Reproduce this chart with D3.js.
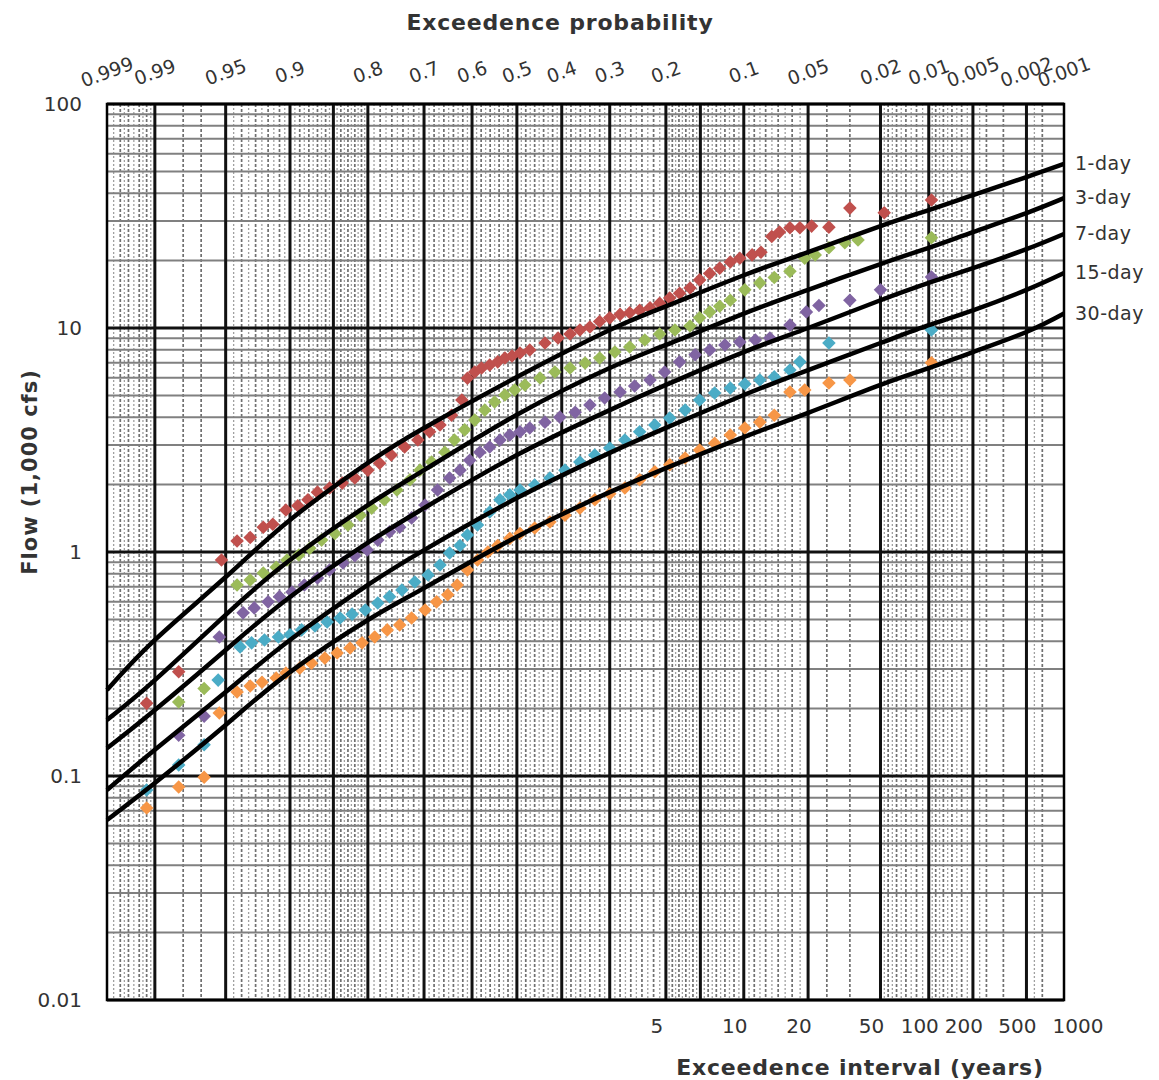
<!DOCTYPE html>
<html>
<head>
<meta charset="utf-8">
<script src="https://cdn.jsdelivr.net/npm/d3@7"></script>
<style>
  body { margin: 0; background: #fff; }
  svg text { font-family: "DejaVu Sans", Verdana, sans-serif; fill: #333; }
</style>
</head>
<body>
<div id="chart"></div>
<script>
// ---- Data ----
const durations = ["1-day", "3-day", "7-day", "15-day", "30-day"];
const seriesColors = ["#c0504d", "#9bbb59", "#8064a2", "#4bacc6", "#f79646"];

const probLabels = [0.999, 0.99, 0.95, 0.9, 0.8, 0.7, 0.6, 0.5, 0.4, 0.3, 0.2, 0.1, 0.05, 0.02, 0.01, 0.005, 0.002, 0.001];
const intervalLabels = [5, 10, 20, 50, 100, 200, 500, 1000];
const flowLabels = [0.01, 0.1, 1, 10, 100];

// probability paper grid
const majorProbs = [0.99, 0.95, 0.9, 0.85, 0.8, 0.7, 0.6, 0.5, 0.4, 0.3, 0.2, 0.15, 0.1, 0.05, 0.02, 0.01, 0.005, 0.002];
const minorProbs = [0.998, 0.997, 0.995, 0.993, 0.98, 0.97, 0.94, 0.93, 0.92, 0.91, 0.89, 0.88, 0.87, 0.86,
  0.84, 0.83, 0.82, 0.81, 0.78, 0.76, 0.74, 0.72, 0.68, 0.66, 0.64, 0.62, 0.58, 0.56, 0.54, 0.52,
  0.48, 0.46, 0.44, 0.42, 0.38, 0.36, 0.34, 0.32, 0.28, 0.26, 0.24, 0.22, 0.19, 0.18, 0.17, 0.16,
  0.14, 0.13, 0.12, 0.11, 0.09, 0.08, 0.07, 0.06, 0.04, 0.03, 0.018, 0.016, 0.014, 0.012,
  0.009, 0.008, 0.007, 0.006, 0.004, 0.003, 0.0015];

// fitted frequency curves
const fitProbs = [0.999, 0.99, 0.95, 0.9, 0.8, 0.7, 0.5, 0.3, 0.2, 0.1, 0.05, 0.02, 0.01, 0.005, 0.002, 0.001];
const fit1 = [0.242, 0.405, 0.773, 1.39, 2.50, 3.58, 6.04, 9.80, 12.5, 17.2, 21.8, 28.5, 33.6, 39.2, 47.2, 54.0];
const fit3 = [0.178, 0.268, 0.524, 0.921, 1.62, 2.32, 4.10, 6.63, 8.40, 11.6, 14.8, 19.3, 22.8, 26.8, 32.6, 38.0];
const fit7 = [0.133, 0.197, 0.365, 0.630, 1.10, 1.57, 2.71, 4.30, 5.57, 7.81, 10.0, 13.3, 15.9, 18.5, 22.5, 26.3];
const fit15 = [0.0866, 0.131, 0.237, 0.405, 0.713, 1.02, 1.74, 2.77, 3.58, 5.02, 6.49, 8.57, 10.3, 12.0, 14.8, 17.6];
const fit30 = [0.0636, 0.0931, 0.169, 0.291, 0.497, 0.690, 1.17, 1.85, 2.37, 3.26, 4.18, 5.57, 6.62, 7.81, 9.60, 11.6];

// observed annual flows [exceedence probability, flow]
const obs1 = [[0.993, 0.211], [0.982, 0.292], [0.954, 0.921], [0.943, 1.12], [0.934, 1.16], [0.924, 1.29],
  [0.916, 1.33], [0.904, 1.54], [0.892, 1.61], [0.881, 1.71], [0.870, 1.85], [0.855, 1.93], [0.838, 2.03],
  [0.820, 2.14], [0.800, 2.32], [0.781, 2.49], [0.761, 2.71], [0.737, 2.94], [0.712, 3.16], [0.689, 3.44],
  [0.668, 3.69], [0.644, 4.08], [0.622, 4.77], [0.610, 5.97], [0.594, 6.36], [0.579, 6.63], [0.561, 6.84],
  [0.543, 7.06], [0.527, 7.35], [0.511, 7.50], [0.493, 7.74], [0.471, 7.98], [0.437, 8.57], [0.408, 9.02],
  [0.382, 9.41], [0.361, 9.80], [0.340, 10.1], [0.320, 10.7], [0.300, 11.1], [0.280, 11.5], [0.262, 11.7],
  [0.244, 12.0], [0.226, 12.3], [0.210, 12.9], [0.194, 13.6], [0.179, 14.3], [0.164, 15.1], [0.151, 16.4],
  [0.138, 17.5], [0.126, 18.5], [0.114, 19.7], [0.104, 20.5], [0.092, 21.2], [0.084, 21.8], [0.075, 25.6],
  [0.069, 26.8], [0.0615, 28.0], [0.055, 28.0], [0.048, 28.5], [0.039, 28.2], [0.030, 34.3], [0.019, 32.7],
  [0.0096, 37.3]];
const obs3 = [[0.982, 0.214], [0.968, 0.246], [0.943, 0.713], [0.934, 0.750], [0.924, 0.806], [0.913, 0.855],
  [0.903, 0.921], [0.891, 0.969], [0.879, 1.04], [0.865, 1.13], [0.848, 1.21], [0.830, 1.32], [0.812, 1.46],
  [0.794, 1.57], [0.773, 1.71], [0.751, 1.89], [0.727, 2.10], [0.708, 2.32], [0.685, 2.52], [0.658, 2.79],
  [0.638, 3.16], [0.616, 3.51], [0.594, 3.88], [0.572, 4.30], [0.550, 4.67], [0.527, 5.02], [0.505, 5.29],
  [0.482, 5.57], [0.448, 5.98], [0.415, 6.36], [0.382, 6.63], [0.350, 6.98], [0.320, 7.35], [0.290, 7.82],
  [0.262, 8.23], [0.235, 8.84], [0.210, 9.41], [0.186, 9.80], [0.164, 10.2], [0.151, 11.1], [0.138, 11.8],
  [0.126, 12.5], [0.114, 13.3], [0.099, 14.8], [0.085, 15.9], [0.073, 16.8], [0.0615, 17.9], [0.052, 20.5],
  [0.046, 21.2], [0.039, 22.8], [0.032, 24.0], [0.027, 24.7], [0.0096, 25.3]];
const obs7 = [[0.982, 0.152], [0.968, 0.185], [0.956, 0.417], [0.939, 0.535], [0.931, 0.563], [0.920, 0.599],
  [0.910, 0.632], [0.898, 0.663], [0.885, 0.713], [0.870, 0.765], [0.855, 0.831], [0.837, 0.894], [0.820, 0.962],
  [0.801, 1.02], [0.784, 1.13], [0.764, 1.23], [0.746, 1.29], [0.724, 1.42], [0.698, 1.62], [0.673, 1.89],
  [0.648, 2.14], [0.626, 2.32], [0.605, 2.57], [0.583, 2.79], [0.561, 2.94], [0.538, 3.16], [0.516, 3.33],
  [0.493, 3.44], [0.471, 3.58], [0.437, 3.80], [0.404, 4.00], [0.371, 4.21], [0.340, 4.53], [0.310, 4.87],
  [0.280, 5.18], [0.253, 5.51], [0.226, 5.86], [0.202, 6.36], [0.179, 7.06], [0.157, 7.59], [0.138, 7.98],
  [0.120, 8.40], [0.104, 8.66], [0.089, 8.84], [0.0765, 9.02], [0.0615, 10.3], [0.051, 11.8], [0.044, 12.6],
  [0.030, 13.3], [0.020, 14.8], [0.0096, 16.9]];
const obs15 = [[0.993, 0.0866], [0.982, 0.112], [0.968, 0.138], [0.957, 0.268], [0.941, 0.377], [0.933, 0.393],
  [0.923, 0.405], [0.911, 0.417], [0.900, 0.427], [0.888, 0.449], [0.873, 0.467], [0.858, 0.487], [0.841, 0.507],
  [0.824, 0.528], [0.804, 0.551], [0.784, 0.592], [0.764, 0.632], [0.742, 0.677], [0.718, 0.735], [0.692, 0.790],
  [0.668, 0.875], [0.648, 0.989], [0.626, 1.07], [0.610, 1.19], [0.588, 1.32], [0.561, 1.51], [0.538, 1.71],
  [0.516, 1.80], [0.493, 1.89], [0.460, 1.99], [0.426, 2.14], [0.393, 2.32], [0.361, 2.52], [0.330, 2.71],
  [0.300, 2.91], [0.271, 3.16], [0.244, 3.44], [0.218, 3.69], [0.194, 3.96], [0.171, 4.30], [0.151, 4.77],
  [0.132, 5.13], [0.114, 5.40], [0.099, 5.62], [0.085, 5.86], [0.073, 6.05], [0.0615, 6.49], [0.055, 7.06],
  [0.039, 8.57], [0.0096, 9.80]];
const obs30 = [[0.993, 0.0720], [0.982, 0.0893], [0.968, 0.0988], [0.956, 0.191], [0.943, 0.237], [0.934, 0.252],
  [0.925, 0.262], [0.913, 0.274], [0.904, 0.288], [0.890, 0.303], [0.877, 0.319], [0.861, 0.336], [0.845, 0.354],
  [0.827, 0.373], [0.809, 0.393], [0.789, 0.417], [0.768, 0.449], [0.746, 0.472], [0.724, 0.507], [0.698, 0.551],
  [0.675, 0.599], [0.652, 0.644], [0.632, 0.713], [0.610, 0.831], [0.588, 0.921], [0.565, 1.00], [0.543, 1.07],
  [0.516, 1.15], [0.493, 1.21], [0.460, 1.28], [0.426, 1.36], [0.393, 1.46], [0.361, 1.57], [0.330, 1.71],
  [0.300, 1.82], [0.271, 1.93], [0.244, 2.10], [0.218, 2.28], [0.194, 2.45], [0.171, 2.63], [0.151, 2.85],
  [0.132, 3.06], [0.114, 3.33], [0.099, 3.58], [0.085, 3.80], [0.073, 4.08], [0.0615, 5.18], [0.052, 5.29],
  [0.039, 5.68], [0.030, 5.86], [0.0096, 7.00]];

const fits = [fit1, fit3, fit7, fit15, fit30];
const observed = [obs1, obs3, obs7, obs15, obs30];

// ---- Inverse standard normal (Acklam) ----
function qnorm(p) {
    const a = [-3.969683028665376e+01, 2.209460984245205e+02, -2.759285104469687e+02, 1.383577518672690e+02, -3.066479806614716e+01, 2.506628277459239e+00];
    const b = [-5.447609879822406e+01, 1.615858368580409e+02, -1.556989798598866e+02, 6.680131188771972e+01, -1.328068155288572e+01];
    const c = [-7.784894002430293e-03, -3.223964580411365e-01, -2.400758277161838e+00, -2.549732539343734e+00, 4.374664141464968e+00, 2.938163982698783e+00];
    const d = [7.784695709041462e-03, 3.224671290700398e-01, 2.445134137142996e+00, 3.754408661907416e+00];
    const pl = 0.02425;
    let q, r;
    if (p < pl) {
        q = Math.sqrt(-2 * Math.log(p));
        return (((((c[0] * q + c[1]) * q + c[2]) * q + c[3]) * q + c[4]) * q + c[5]) / ((((d[0] * q + d[1]) * q + d[2]) * q + d[3]) * q + 1);
    }
    if (p > 1 - pl) {
        q = Math.sqrt(-2 * Math.log(1 - p));
        return -(((((c[0] * q + c[1]) * q + c[2]) * q + c[3]) * q + c[4]) * q + c[5]) / ((((d[0] * q + d[1]) * q + d[2]) * q + d[3]) * q + 1);
    }
    q = p - 0.5; r = q * q;
    return (((((a[0] * r + a[1]) * r + a[2]) * r + a[3]) * r + a[4]) * r + a[5]) * q / (((((b[0] * r + b[1]) * r + b[2]) * r + b[3]) * r + b[4]) * r + 1);
}
// normal variate of the non-exceedence probability
const zOf = p => qnorm(1 - p);

// ---- Layout ----
const W = 1159, H = 1080;
const margin = { top: 104, right: 95, bottom: 80, left: 107 };
const width = W - margin.left - margin.right;
const height = H - margin.top - margin.bottom;

const svg = d3.select("#chart").append("svg")
    .attr("width", W)
    .attr("height", H);

const g = svg.append("g")
    .attr("transform", `translate(${margin.left},${margin.top})`);

// the paper squeezes the tail left of 0.95
const x = d3.scaleLinear()
    .domain([zOf(0.999), zOf(0.99), zOf(0.95), zOf(0.001)])
    .range([0, width * 0.05, width * 0.124, width]);
const px = p => x(zOf(p));

const y = d3.scaleLog()
    .domain([0.01, 100])
    .range([height, 0]);

// ---- Grid ----
const gridG = g.append("g");

// sub-minor vertical lines halfway between the others, where space allows
const allX = [0, width].concat(majorProbs.map(px), minorProbs.map(px)).sort((a, b) => a - b);
const subX = [];
for (let i = 1; i < allX.length; i++) {
    if (allX[i] - allX[i - 1] < 16) subX.push((allX[i] + allX[i - 1]) / 2);
}

gridG.selectAll(".sub-v").data(subX).enter().append("line")
    .attr("x1", d => d).attr("x2", d => d)
    .attr("y1", 0).attr("y2", height)
    .attr("stroke", "#a0a0a0").attr("stroke-width", 1.3)
    .attr("stroke-dasharray", "2,2");

gridG.selectAll(".minor-v").data(minorProbs).enter().append("line")
    .attr("x1", d => px(d)).attr("x2", d => px(d))
    .attr("y1", 0).attr("y2", height)
    .attr("stroke", "#707070").attr("stroke-width", 1.7)
    .attr("stroke-dasharray", "3,2");

// log minor lines 2..9 in each decade
const minorFlows = [];
flowLabels.slice(0, -1).forEach(dec => {
    for (let k = 2; k <= 9; k++) minorFlows.push(dec * k);
});
gridG.selectAll(".minor-h").data(minorFlows).enter().append("line")
    .attr("x1", 0).attr("x2", width)
    .attr("y1", d => y(d)).attr("y2", d => y(d))
    .attr("stroke", "#808080").attr("stroke-width", 2);

gridG.selectAll(".major-h").data(flowLabels).enter().append("line")
    .attr("x1", 0).attr("x2", width)
    .attr("y1", d => y(d)).attr("y2", d => y(d))
    .attr("stroke", "#111").attr("stroke-width", 3);

gridG.selectAll(".major-v").data(majorProbs).enter().append("line")
    .attr("x1", d => px(d)).attr("x2", d => px(d))
    .attr("y1", 0).attr("y2", height)
    .attr("stroke", "#111").attr("stroke-width", 3);

// ---- Observed points ----
const diamond = d3.symbol(d3.symbolSquare, 92);
observed.forEach((obs, i) => {
    g.append("g").selectAll("path").data(obs).enter().append("path")
        .attr("d", diamond)
        .attr("transform", d => `translate(${px(d[0])},${y(d[1])}) rotate(45)`)
        .attr("fill", seriesColors[i]);
});

// ---- Fitted curves ----
const line = d3.line()
    .x(d => px(d[0]))
    .y(d => y(d[1]))
    .curve(d3.curveNatural);

fits.forEach((fit, i) => {
    g.append("path")
        .datum(fitProbs.map((p, j) => [p, fit[j]]))
        .attr("d", line)
        .attr("fill", "none")
        .attr("stroke", "#000")
        .attr("stroke-width", 4.5);

    g.append("text")
        .attr("x", width + 11)
        .attr("y", y(fit[fit.length - 1]) + 6)
        .style("font-size", "19px")
        .style("letter-spacing", "0.5px")
        .text(durations[i]);
});

// frame
g.append("rect")
    .attr("width", width).attr("height", height)
    .attr("fill", "none").attr("stroke", "#000").attr("stroke-width", 2.5);

// ---- Axes labels ----
g.selectAll(".ylab").data(flowLabels).enter().append("text")
    .attr("x", -25)
    .attr("y", d => y(d) + 7)
    .attr("text-anchor", "end")
    .style("font-size", "20px")
    .text(d => d3.format("~g")(d));

g.selectAll(".plab").data(probLabels).enter().append("text")
    .attr("transform", d => `translate(${px(d)},${-32}) rotate(-20)`)
    .attr("text-anchor", "middle")
    .attr("dy", "0.35em")
    .style("font-size", "19px")
    .text(d => d);

g.selectAll(".tlab").data(intervalLabels).enter().append("text")
    .attr("x", d => px(1 / d) + (d === 1000 ? 14 : -9))
    .attr("y", height + 33)
    .attr("text-anchor", "middle")
    .style("font-size", "20px")
    .text(d => d);

// titles
svg.append("text")
    .attr("x", 560).attr("y", 30)
    .attr("text-anchor", "middle")
    .style("font-size", "22px").style("font-weight", "bold")
    .style("letter-spacing", "0.8px")
    .text("Exceedence probability");

svg.append("text")
    .attr("x", 860).attr("y", 1075)
    .attr("text-anchor", "middle")
    .style("font-size", "22px").style("font-weight", "bold")
    .style("letter-spacing", "0.8px")
    .text("Exceedence interval (years)");

svg.append("text")
    .attr("transform", `translate(37,${472}) rotate(-90)`)
    .attr("text-anchor", "middle")
    .style("font-size", "21px").style("font-weight", "bold")
    .style("letter-spacing", "1px")
    .text("Flow (1,000 cfs)");
</script>
</body>
</html>
